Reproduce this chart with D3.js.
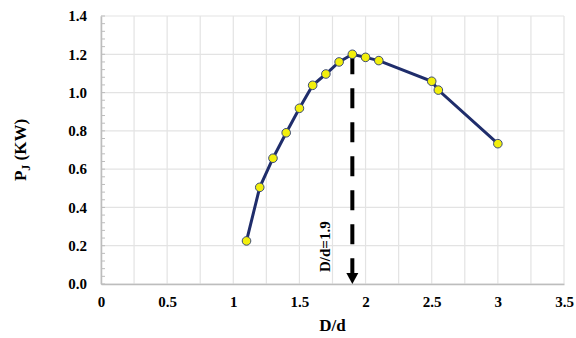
<!DOCTYPE html>
<html>
<head>
<meta charset="utf-8">
<script src="https://cdn.jsdelivr.net/npm/d3@7"></script>
<style>
  body { margin: 0; background: #fff; }
  text { font-family: "Liberation Serif", "Times New Roman", serif; font-weight: bold; }
</style>
</head>
<body>
<div id="chart"></div>
<script>
// data
const ratio = [1.1, 1.2, 1.3, 1.4, 1.5, 1.6, 1.7, 1.8, 1.9, 2.0, 2.1, 2.5, 2.55, 3.0];
const power = [0.225, 0.505, 0.657, 0.79, 0.918, 1.038, 1.097, 1.16, 1.2, 1.184, 1.167, 1.059, 1.013, 0.733];
const xTicks = [0, 0.5, 1, 1.5, 2, 2.5, 3, 3.5];
const yTicks = [0, 0.2, 0.4, 0.6, 0.8, 1.0, 1.2, 1.4];
const optRatio = 1.9, optPower = 1.2;

const width = 576, height = 338;
const margin = {top: 16, right: 12, bottom: 54, left: 101};

const svg = d3.select("#chart")
  .append("svg")
    .attr("width", width)
    .attr("height", height);

const x = d3.scaleLinear().domain([0, 3.5]).range([margin.left, width - margin.right]);
const y = d3.scaleLinear().domain([0, 1.4]).range([height - margin.bottom, margin.top]);

// grid: x every 0.25, y every 0.2
svg.append("g")
  .selectAll("line")
  .data(d3.range(0, 3.5001, 0.25))
  .join("line")
    .attr("x1", d => x(d)).attr("x2", d => x(d))
    .attr("y1", y(0)).attr("y2", y(1.4))
    .attr("stroke", "#e3e3e3").attr("stroke-width", 1.2);

svg.append("g")
  .selectAll("line")
  .data(yTicks)
  .join("line")
    .attr("x1", x(0)).attr("x2", x(3.5))
    .attr("y1", d => y(d)).attr("y2", d => y(d))
    .attr("stroke", "#e3e3e3").attr("stroke-width", 1.2);

// minor ticks on the y axis
svg.append("g")
  .selectAll("line")
  .data(d3.range(0, 1.4001, 0.04))
  .join("line")
    .attr("x1", x(0)).attr("x2", x(0) + 4)
    .attr("y1", d => y(d)).attr("y2", d => y(d))
    .attr("stroke", "#bdbdbd");

// axes
const xAxis = svg.append("g")
  .attr("transform", `translate(0,${y(0)})`)
  .call(d3.axisBottom(x).tickValues(xTicks).tickSize(0).tickPadding(12).tickFormat(d => d));
const yAxis = svg.append("g")
  .attr("transform", `translate(${x(0)},0)`)
  .call(d3.axisLeft(y).tickValues(yTicks).tickSize(0).tickPadding(14).tickFormat(d3.format(".1f")));

[xAxis, yAxis].forEach(g => {
  g.select(".domain").attr("stroke", "#bdbdbd").attr("stroke-width", 1.5);
  g.selectAll("text").attr("font-size", 15).attr("fill", "#000")
    .attr("font-family", "Liberation Serif, serif").attr("font-weight", "bold");
});

// titles
svg.append("text")
  .attr("x", x(1.75)).attr("y", 331)
  .attr("text-anchor", "middle").attr("font-size", 17)
  .text("D/d");

const yt = svg.append("text")
  .attr("transform", `translate(26,${y(0.7)}) rotate(-90)`)
  .attr("text-anchor", "middle").attr("font-size", 17);
yt.append("tspan").text("P");
yt.append("tspan").attr("font-size", 12).attr("dy", 4).text("J");
yt.append("tspan").attr("dy", -4).text(" (KW)");

// dashed marker of optimum
svg.append("line")
  .attr("x1", x(optRatio)).attr("x2", x(optRatio))
  .attr("y1", y(optPower)).attr("y2", y(0) - 8)
  .attr("stroke", "#000").attr("stroke-width", 4)
  .attr("stroke-dasharray", "20,14");
svg.append("path")
  .attr("d", `M${x(optRatio) - 6},${y(0) - 11} L${x(optRatio) + 6},${y(0) - 11} L${x(optRatio)},${y(0)} Z`)
  .attr("fill", "#000");

svg.append("text")
  .attr("transform", `translate(${x(optRatio) - 28},${y(0.195)}) rotate(-90)`)
  .attr("text-anchor", "middle").attr("dy", "0.35em").attr("font-size", 15)
  .text("D/d=" + optRatio);

// curve
const pts = ratio.map((r, i) => [r, power[i]]);
svg.append("path")
  .datum(pts)
  .attr("fill", "none")
  .attr("stroke", "#1f2d6b")
  .attr("stroke-width", 3)
  .attr("d", d3.line().x(d => x(d[0])).y(d => y(d[1])));

svg.append("g")
  .selectAll("circle")
  .data(pts)
  .join("circle")
    .attr("cx", d => x(d[0]))
    .attr("cy", d => y(d[1]))
    .attr("r", 4.3)
    .attr("fill", "#f2ef0c")
    .attr("stroke", "#3b4a78")
    .attr("stroke-width", 1);
</script>
</body>
</html>
